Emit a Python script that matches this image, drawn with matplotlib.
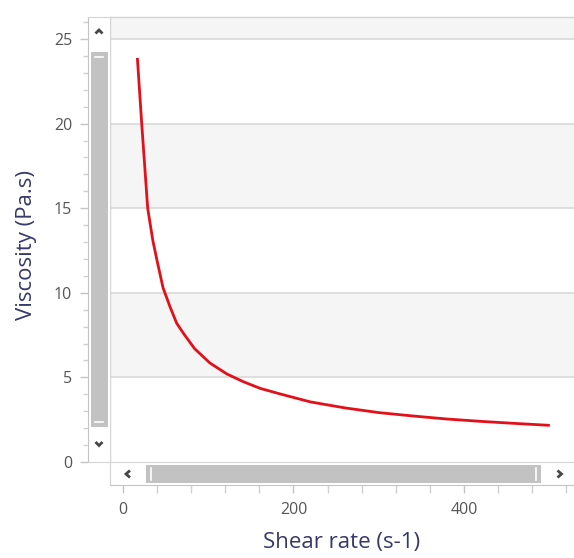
import matplotlib
matplotlib.use("Agg")
import matplotlib.pyplot as plt
from matplotlib.patches import Rectangle
from matplotlib.ticker import MultipleLocator

# viscosity curve
shear_rate = [17, 22, 29, 35, 40, 47, 55, 63, 71, 84, 102, 122, 141, 161, 186,
              220, 260, 300, 340, 380, 420, 460, 499]
viscosity = [23.8, 20.0, 15.0, 13.1, 11.9, 10.3, 9.2, 8.2, 7.6, 6.7, 5.85, 5.2,
             4.75, 4.35, 4.0, 3.55, 3.2, 2.92, 2.72, 2.54, 2.40, 2.28, 2.17]
y_ticks = [0, 5, 10, 15, 20, 25]
x_ticks = [0, 200, 400]

W, H = 574, 558
XLIM = (-15.2, 529.0)
YLIM = (0, 26.3)
font = ["Open Sans", "DejaVu Sans"]
plt.rcParams['font.family'] = font

fig = plt.figure(figsize=(W / 100, H / 100), dpi=100)


def box(x0, y0, x1, y1):
    return [x0 / W, 1 - y1 / H, (x1 - x0) / W, (y1 - y0) / H]


def px(ax_box, x, y):
    x0, y0, x1, y1 = ax_box
    return (x - x0) / (x1 - x0), (y1 - y) / (y1 - y0)


def chevron(ax, ax_box, pts):
    xs, ys = zip(*[px(ax_box, x, y) for x, y in pts])
    ax.plot(xs, ys, color="#474747", lw=2.0, transform=ax.transAxes,
            clip_on=False, solid_capstyle="butt", solid_joinstyle="miter")


border = "#d4d4d4"
label_col = "#35386a"

# main plot area
main_box = (110, 17, 574, 462)
ax = fig.add_axes(box(*main_box))
ax.set_xlim(*XLIM)
ax.set_ylim(*YLIM)
for lo in (5, 15, 25):
    ax.axhspan(lo, lo + 5, color="#f5f5f5", lw=0, zorder=0)
for t in y_ticks[1:]:
    ax.axhline(t, color="#d6d6d6", lw=1.1, zorder=1)
ax.plot(shear_rate, viscosity, color="#e3101a", lw=2.0, zorder=3)
ax.set_xticks([])
ax.set_yticks([])
for s in ("right", "bottom"):
    ax.spines[s].set_visible(False)
for s in ("top", "left"):
    ax.spines[s].set_color(border)
    ax.spines[s].set_linewidth(1.0)

# vertical scrollbar carrying the y axis
vbox = (88, 17, 110, 462)
vs = fig.add_axes(box(*vbox))
vs.set_ylim(*YLIM)
vs.set_xlim(0, 1)
vs.set_xticks([])
vs.yaxis.set_major_locator(MultipleLocator(5))
vs.yaxis.set_minor_locator(MultipleLocator(1))
vs.set_yticks(y_ticks)
vs.tick_params(axis="y", which="major", length=6, width=1, color="#c4c4c4",
               labelcolor="#555555", labelsize=11.5, pad=5.5)
vs.tick_params(axis="y", which="minor", length=3.5, width=1, color="#d0d0d0")
vs.spines["left"].set_color("#c4c4c4")
vs.spines["top"].set_color(border)
vs.spines["bottom"].set_color(border)
vs.spines["right"].set_visible(False)
x0, y0 = px(vbox, 90.5, 427)
x1, y1 = px(vbox, 108.5, 52)
vs.add_patch(Rectangle((x0, y0), x1 - x0, y1 - y0, transform=vs.transAxes,
                       facecolor="#c2c2c2", edgecolor="none"))
for yy in (57, 422):
    a, b = px(vbox, 95, yy), px(vbox, 103, yy)
    vs.plot([a[0], b[0]], [a[1], b[1]], color="white", lw=1.2, transform=vs.transAxes)
chevron(vs, vbox, [(95.5, 33.5), (99, 30), (102.5, 33.5)])
chevron(vs, vbox, [(95.5, 442), (99, 445.5), (102.5, 442)])
vs.set_ylabel("Viscosity (Pa.s)", color=label_col, fontsize=16, labelpad=12)
vs.yaxis.label.set_y((462 - 244.5) / 445)

# horizontal scrollbar carrying the x axis
hbox = (110, 462, 574, 485)
hs = fig.add_axes(box(*hbox))
hs.set_xlim(*XLIM)
hs.set_ylim(0, 1)
hs.set_yticks([])
hs.xaxis.set_minor_locator(MultipleLocator(40))
hs.set_xticks(x_ticks)
hs.tick_params(axis="x", which="major", length=6, width=1, color="#c4c4c4",
               labelcolor="#555555", labelsize=11.5, pad=6)
hs.tick_params(axis="x", which="minor", length=6, width=1, color="#d0d0d0")
hs.spines["bottom"].set_color("#c4c4c4")
hs.spines["top"].set_color(border)
hs.spines["left"].set_color(border)
hs.spines["right"].set_visible(False)
x0, y0 = px(hbox, 146, 482.5)
x1, y1 = px(hbox, 541, 464.5)
hs.add_patch(Rectangle((x0, y0), x1 - x0, y1 - y0, transform=hs.transAxes,
                       facecolor="#c2c2c2", edgecolor="none"))
for xx in (151, 536):
    a, b = px(hbox, xx, 467.5), px(hbox, xx, 479.5)
    hs.plot([a[0], b[0]], [a[1], b[1]], color="white", lw=1.2, transform=hs.transAxes)
chevron(hs, hbox, [(130, 470.5), (126, 474), (130, 477.5)])
chevron(hs, hbox, [(557.5, 470.5), (561.5, 474), (557.5, 477.5)])
hs.set_xlabel("Shear rate (s-1)", color=label_col, fontsize=16, labelpad=10)

fig.savefig("out.png", dpi=100, facecolor="white")
